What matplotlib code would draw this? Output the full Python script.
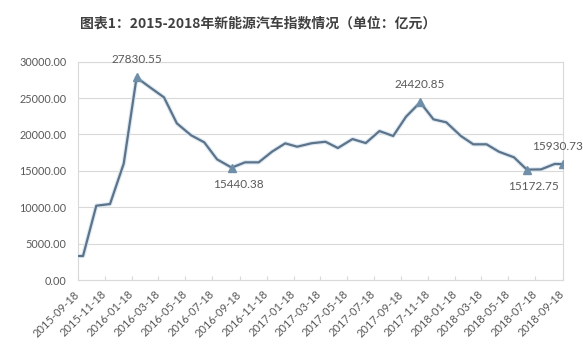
import matplotlib
matplotlib.use("Agg")
import matplotlib.pyplot as plt
import matplotlib.patheffects as pe
import pandas as pd

plt.rcParams['font.family'] = ['Lato', 'DejaVu Sans']

title = "图表1：2015-2018年新能源汽车指数情况（单位：亿元）"

dates = ["2015-09-18", "2015-09-30", "2015-10-30", "2015-11-30", "2015-12-31",
         "2016-01-29", "2016-02-29", "2016-03-31", "2016-04-29", "2016-05-31",
         "2016-06-30", "2016-07-29", "2016-08-31", "2016-09-30", "2016-10-31",
         "2016-11-30", "2016-12-30", "2017-01-26", "2017-02-28", "2017-03-31",
         "2017-04-28", "2017-05-31", "2017-06-30", "2017-07-31", "2017-08-31",
         "2017-09-29", "2017-10-31", "2017-11-30", "2017-12-29", "2018-01-31",
         "2018-02-28", "2018-03-30", "2018-04-27", "2018-05-31", "2018-06-29",
         "2018-07-31", "2018-08-31", "2018-09-18"]
values = [3300, 3300, 10210, 10440, 16000,
          27830.55, 26450, 25100, 21530, 19900,
          18920, 16580, 15440.38, 16170, 16170,
          17630, 18780, 18320, 18800, 19000,
          18140, 19370, 18820, 20470, 19790,
          22440, 24420.85, 22080, 21670, 19790,
          18650, 18650, 17630, 16860, 15172.75,
          15200, 15950, 15930.73]

# labelled points: (index, placement)
labelled = [(5, "above"), (12, "below"), (26, "above"), (34, "below"), (37, "above_left")]

tick_labels = ["2015-09-18", "2015-11-18", "2016-01-18", "2016-03-18", "2016-05-18",
               "2016-07-18", "2016-09-18", "2016-11-18", "2017-01-18", "2017-03-18",
               "2017-05-18", "2017-07-18", "2017-09-18", "2017-11-18", "2018-01-18",
               "2018-03-18", "2018-05-18", "2018-07-18", "2018-09-18"]
y_ticks = [0, 5000, 10000, 15000, 20000, 25000, 30000]

x = pd.to_datetime(dates)
xt = pd.to_datetime(tick_labels)

fig = plt.figure(figsize=(5.83, 3.52), dpi=100)
ax = fig.add_axes([0.1333, 0.2045, 0.8318, 0.6202])

line_color = "#5d7389"
ax.plot(x, values, color=line_color, lw=1.6, zorder=3,
        path_effects=[pe.Stroke(linewidth=3.2, foreground="#dce9f3"), pe.Normal()])

offsets = {"above": (0, 9, "bottom"), "below": (5, -8, "top"),
           "above_left": (-4, 9, "bottom")}
for i, pos in labelled:
    ax.plot(x[i], values[i], marker="^", ms=5.5, color="#6f8fa8", zorder=4)
    dx, dy, va = offsets[pos]
    ax.annotate(f"{values[i]:.2f}", (x[i], values[i]), xytext=(dx, dy),
                textcoords="offset points", ha="center", va=va,
                fontsize=8.5, color="#595959", annotation_clip=False)

ax.set_xlim(xt[0], xt[-1])
ax.set_ylim(0, 30000)
ax.set_yticks(y_ticks)
ax.set_yticklabels([f"{v:.2f}" for v in y_ticks])
ax.set_xticks(xt)
ax.set_xticklabels(tick_labels, rotation=45, ha="right", va="center",
                   rotation_mode="anchor")
ax.tick_params(axis="y", length=0, pad=8, labelsize=7.8, labelcolor="#595959")
ax.tick_params(axis="x", length=3, direction="in", color="#d9d9d9", pad=9,
               labelsize=8, labelcolor="#595959")
ax.grid(axis="y", color="#d9d9d9", lw=0.8)
ax.set_axisbelow(True)
for s in ax.spines.values():
    s.set_color("#d9d9d9")
    s.set_linewidth(0.8)

fig.text(0.443, 0.935, title, ha="center", va="center", fontsize=10,
         fontweight="bold", color="#404040",
         family=["Noto Sans CJK SC", "DejaVu Sans"])

fig.savefig("out.png", dpi=100, facecolor="white")
